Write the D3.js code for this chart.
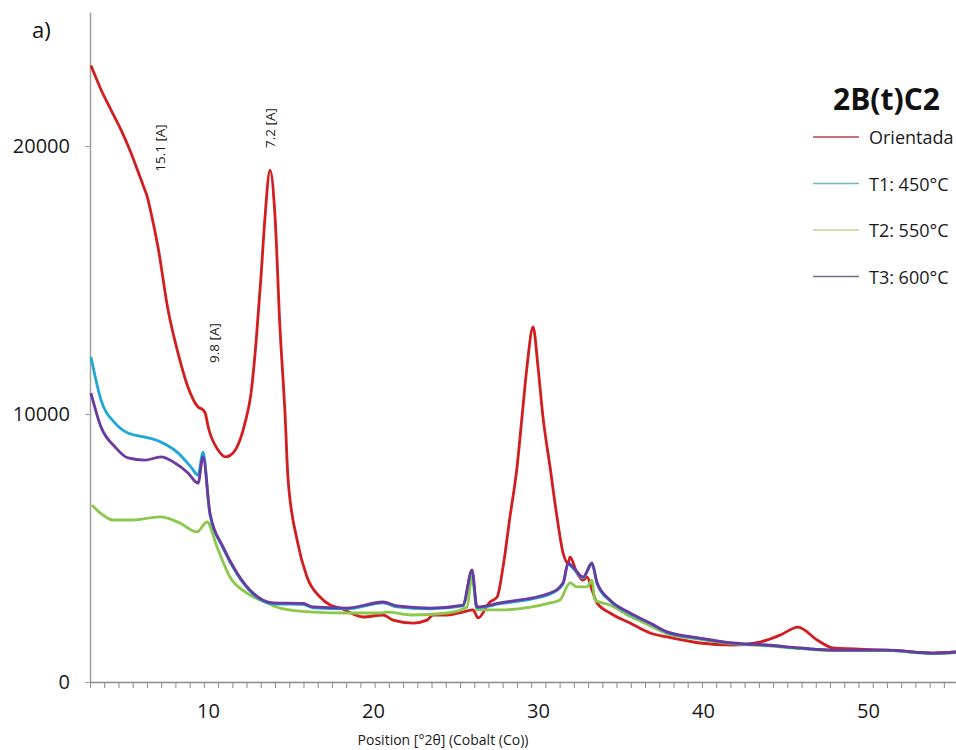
<!DOCTYPE html>
<html>
<head>
<meta charset="utf-8">
<script src="https://cdn.jsdelivr.net/npm/d3@7/dist/d3.min.js"></script>
<style>
  body { margin: 0; background: #fff; }
  svg { display: block; font-family: "Open Sans", sans-serif; }
</style>
</head>
<body>
<div id="chart"></div>
<script>
// XRD patterns, [position °2θ, counts]
const orientada = [
  [2.91, 23000], [3.52, 22100], [4.12, 21350], [4.73, 20600], [5.33, 19750],
  [5.88, 18850], [6.18, 18350], [6.3, 18150], [6.55, 17500], [6.97, 16230],
  [7.58, 13880], [8.18, 12280], [8.79, 11000], [9.4, 10260], [9.7, 10150],
  [9.85, 10000], [10.0, 9550], [10.61, 8660], [11.09, 8400], [11.33, 8450],
  [11.7, 8700], [12.24, 9660], [12.61, 10780], [12.91, 12650], [13.21, 15100],
  [13.45, 17300], [13.76, 19100], [14.06, 17400], [14.36, 13250], [14.67, 10000],
  [14.85, 7600], [15.4, 5300], [16.0, 3920], [16.79, 3170], [17.4, 2870],
  [18.0, 2760], [19.4, 2425], [20.61, 2500], [21.21, 2310], [22.43, 2200],
  [23.27, 2310], [23.64, 2500], [24.49, 2500], [25.45, 2610], [26.06, 2690],
  [26.37, 2390], [27.09, 2985], [27.52, 3170], [27.88, 4290], [28.3, 6160],
  [28.73, 8020], [29.03, 9890], [29.33, 11750], [29.7, 13250], [30.0, 11750],
  [30.3, 9890], [30.73, 8020], [31.15, 6160], [31.52, 4810], [31.82, 4440],
  [31.94, 4660], [32.36, 4070], [32.73, 3800], [32.97, 3920], [33.27, 3430],
  [33.58, 2950], [34.36, 2575], [35.58, 2200], [36.79, 1830], [37.82, 1680],
  [39.8, 1455], [41.82, 1380], [43.45, 1490], [44.67, 1750], [45.76, 2050],
  [46.91, 1570], [47.88, 1270], [51.15, 1190], [53.94, 1080], [55.33, 1120]
]

const t1 = [
  [2.91, 12130], [3.52, 10520], [4.37, 9660], [5.15, 9290], [6.18, 9140],
  [7.15, 8950], [8.18, 8550], [8.97, 8020], [9.4, 7720], [9.7, 8580],
  [10.12, 6250], [10.91, 5000], [11.76, 4030], [12.73, 3280], [13.94, 2920],
  [15.76, 2900], [16.36, 2770], [18.43, 2730], [20.61, 2950], [21.45, 2800],
  [23.45, 2730], [25.45, 2840], [26.0, 4150], [26.3, 2770], [27.7, 2920],
  [30.73, 3280], [31.52, 3660], [31.82, 4400], [32.12, 4250], [32.73, 3880],
  [33.27, 4400], [33.58, 3660], [34.36, 3030], [35.58, 2550], [36.79, 2180],
  [37.82, 1850], [39.8, 1620], [41.82, 1440], [43.88, 1370], [45.88, 1260],
  [47.88, 1180], [51.15, 1180], [53.94, 1070], [55.33, 1110]
]

const t2 = [
  [2.97, 6600], [3.46, 6310], [4.24, 6045], [5.45, 6045], [7.09, 6160],
  [8.3, 5930], [9.33, 5600], [9.94, 5970], [10.55, 5040], [11.33, 3920],
  [12.36, 3320], [13.58, 2950], [14.36, 2760], [16.36, 2610], [18.43, 2575],
  [20.43, 2575], [20.85, 2610], [22.43, 2500], [24.49, 2575], [25.7, 2800],
  [26.0, 3920], [26.3, 2690], [27.7, 2690], [30.73, 2950], [31.33, 3060],
  [31.94, 3700], [32.36, 3550], [32.97, 3550], [33.27, 3800], [33.45, 3060],
  [34.36, 2870], [35.58, 2450], [36.79, 2100], [37.82, 1800], [39.8, 1600],
  [41.82, 1420], [43.88, 1350], [45.88, 1250], [47.88, 1170], [51.15, 1170],
  [53.94, 1060], [55.33, 1100]
]

const t3 = [
  [2.91, 10780], [3.52, 9510], [4.37, 8770], [5.15, 8360], [6.18, 8280],
  [7.15, 8400], [8.0, 8170], [8.79, 7800], [9.4, 7420], [9.7, 8400],
  [10.12, 6300], [10.91, 5040], [11.76, 4070], [12.73, 3320], [13.94, 2950],
  [15.76, 2930], [16.36, 2800], [18.43, 2760], [20.61, 2985], [21.45, 2840],
  [23.45, 2760], [25.45, 2870], [26.0, 4180], [26.3, 2800], [27.7, 2950],
  [30.73, 3320], [31.52, 3700], [31.82, 4440], [32.12, 4290], [32.73, 3920],
  [33.27, 4440], [33.58, 3700], [34.36, 3060], [35.58, 2575], [36.79, 2200],
  [37.82, 1870], [39.8, 1640], [41.82, 1455], [43.88, 1380], [45.88, 1270],
  [47.88, 1190], [51.15, 1190], [53.94, 1080], [55.33, 1120]
]

const seriesNames = ["Orientada", "T1: 450°C", "T2: 550°C", "T3: 600°C"]
const seriesColors = ["#d21e1e", "#1ea8d8", "#8cc84a", "#6a3a9e"]
const legendColors = ["#b8404a", "#6cb8cc", "#c8d49a", "#7c6a94"]
const seriesData = [orientada, t1, t2, t3]
const drawOrder = [0, 2, 1, 3]

const yTicks = [0, 10000, 20000]
const xTickLabels = [10, 20, 30, 40, 50]
const minorStep = 0.8624

// peak labels: text, position, height of label centre
const peakLabels = ["15.1 [A]", "7.2 [A]", "9.8 [A]"]
const peakX = [7.09, 13.76, 10.36]
const peakY = [19925, 20670, 12650]

const width = 956
const height = 750
const margin = { top: 12, right: 0, bottom: 68, left: 90 }

const svg = d3.select("#chart")
  .append("svg")
  .attr("width", width)
  .attr("height", height)

const x = d3.scaleLinear()
  .domain([2.85, 55.33])
  .range([margin.left, width - margin.right])

const y = d3.scaleLinear()
  .domain([0, 25000])
  .range([height - margin.bottom, margin.top])

const axisColor = "#a0a0a0"

// Y axis
const yAxis = svg.append("g")
  .attr("transform", `translate(${margin.left},0)`)
  .call(d3.axisLeft(y).tickValues(yTicks).tickFormat(d3.format("d"))
    .tickSize(5).tickPadding(15).tickSizeOuter(0))
yAxis.select(".domain").attr("stroke", axisColor).attr("stroke-width", 1.5)
yAxis.selectAll(".tick line").attr("stroke", axisColor)
yAxis.selectAll("text").attr("font-size", 20).attr("fill", "#1a1a1a")
  .attr("font-family", "'Open Sans', sans-serif")

// X axis: minor ticks
const minorTicks = d3.range(2.85, 55.4, minorStep)
const xAxis = svg.append("g")
  .attr("transform", `translate(0,${y(0)})`)
  .call(d3.axisBottom(x).tickValues(minorTicks).tickSize(6).tickFormat("").tickSizeOuter(0))
xAxis.select(".domain").attr("stroke", "#8a8a8a").attr("stroke-width", 1.5)
xAxis.selectAll(".tick line").attr("stroke", "#8a8a8a")

// X axis labels
const xLabels = svg.append("g")
  .attr("transform", `translate(0,${y(0)})`)
  .call(d3.axisBottom(x).tickValues(xTickLabels).tickSize(0).tickPadding(22))
xLabels.select(".domain").remove()
xLabels.selectAll("text").attr("font-size", 20).attr("fill", "#1a1a1a")
  .attr("font-family", "'Open Sans', sans-serif")

svg.append("text")
  .attr("x", 443)
  .attr("y", 745)
  .attr("text-anchor", "middle")
  .attr("font-size", 14)
  .attr("fill", "#1a1a1a")
  .text("Position [°2θ] (Cobalt (Co))")

// lines
const line = d3.line()
  .x(d => x(d[0]))
  .y(d => y(d[1]))
  .curve(d3.curveMonotoneX)

drawOrder.forEach(i => {
  svg.append("path")
    .datum(seriesData[i])
    .attr("fill", "none")
    .attr("stroke", seriesColors[i])
    .attr("stroke-width", 2.8)
    .attr("stroke-linejoin", "round")
    .attr("d", line)
})

// peak labels
peakLabels.forEach((t, i) => {
  svg.append("text")
    .attr("transform", `translate(${x(peakX[i])},${y(peakY[i])}) rotate(-90)`)
    .attr("text-anchor", "middle")
    .attr("dominant-baseline", "central")
    .attr("font-size", 13.5)
    .attr("fill", "#1a1a1a")
    .text(t)
})

svg.append("text")
  .attr("x", 32)
  .attr("y", 38)
  .attr("font-size", 22)
  .attr("fill", "#111")
  .text("a)")

// legend
const legend = svg.append("g")
legend.append("text")
  .attr("x", 833)
  .attr("y", 110)
  .attr("font-size", 30)
  .attr("font-weight", "bold")
  .attr("fill", "#111")
  .text("2B(t)C2")

seriesNames.forEach((name, i) => {
  const ly = 137 + i * 46.5
  legend.append("line")
    .attr("x1", 813).attr("x2", 859)
    .attr("y1", ly).attr("y2", ly)
    .attr("stroke", legendColors[i])
    .attr("stroke-width", 1.5)
  legend.append("text")
    .attr("x", 869)
    .attr("y", ly)
    .attr("dominant-baseline", "central")
    .attr("font-size", 18)
    .attr("fill", "#1a1a1a")
    .text(name)
})
</script>
</body>
</html>
